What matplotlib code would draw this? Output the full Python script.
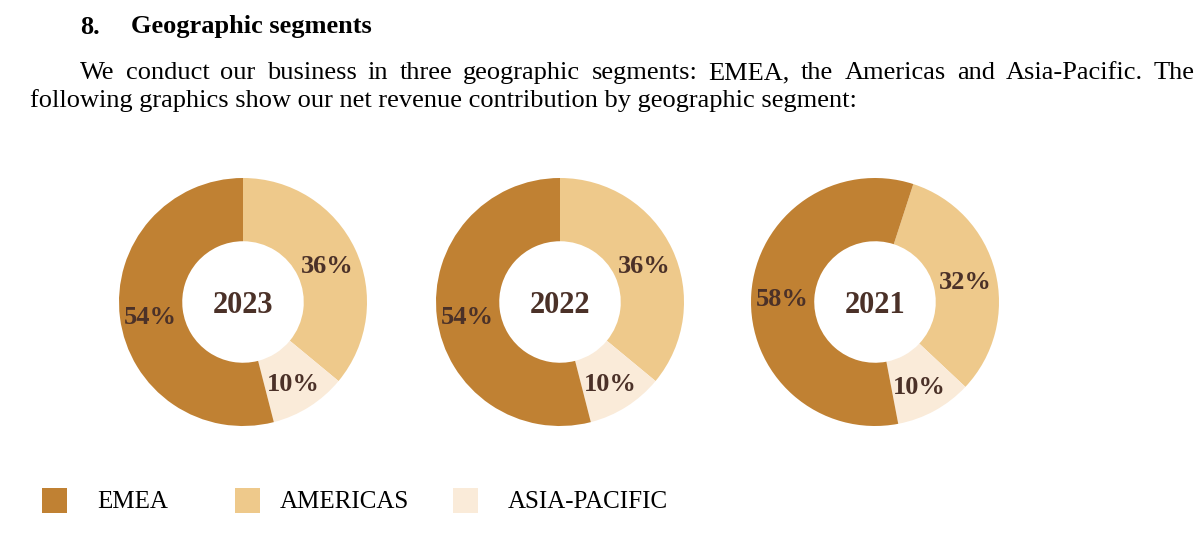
import matplotlib.pyplot as plt
from matplotlib.patches import Rectangle

plt.rcParams['font.family'] = ['Liberation Serif', 'DejaVu Serif']

years = ['2023', '2022', '2021']
segments = ['EMEA', 'AMERICAS', 'ASIA-PACIFIC']
emea = [54, 54, 58]
americas = [36, 36, 32]
asia = [10, 10, 10]
colors = ['#C08133', '#EEC98B', '#FAEBD9']
# clockwise offset of the first (Americas) wedge from 12 o'clock
start_offset = [0, 0, 18]
text_col = '#4B3128'

line1 = 'We conduct our business in three geographic segments: EMEA, the Americas and Asia-Pacific. The'
line2 = 'following graphics show our net revenue contribution by geographic segment:'

W, H = 1200, 541
fig = plt.figure(figsize=(12, 5.41), dpi=100)
r = fig.canvas.get_renderer()

fig.text(80 / W, 1 - 27 / H, '8.', fontsize=19, fontweight='bold', va='center')
fig.text(131 / W, 1 - 27 / H, 'Geographic segments', fontsize=19, fontweight='bold', va='center')

# justified first line: spread the words from x=80 to x=1195
words = line1.split()
txts = [fig.text(0, 1 - 73 / H, w, fontsize=19, va='center') for w in words]
widths = [t.get_window_extent(r).width for t in txts]
gap = (1195 - 80 - sum(widths)) / (len(words) - 1)
x = 80
for t, w in zip(txts, widths):
    t.set_x(x / W)
    x += w + gap
fig.text(30 / W, 1 - 101 / H, line2, fontsize=19, va='center')

centers = [(243, 302), (560, 302), (875, 302)]
R = 124
for i, yr in enumerate(years):
    cx, cy = centers[i]
    ax = fig.add_axes([(cx - R) / W, (H - cy - R) / H, 2 * R / W, 2 * R / H])
    vals = [americas[i], asia[i], emea[i]]
    cols = [colors[1], colors[2], colors[0]]
    wedges, texts, autotexts = ax.pie(vals, colors=cols, startangle=90 - start_offset[i],
                                      counterclock=False, radius=1,
                                      wedgeprops=dict(width=0.51, linewidth=0),
                                      autopct='%d%%', pctdistance=0.75)
    for t in autotexts:
        t.set_fontsize(19)
        t.set_fontweight('bold')
        t.set_color(text_col)
        t.set_y(t.get_position()[1] - 0.03)
    ax.text(0, -0.03, yr, ha='center', va='center', fontsize=22, fontweight='bold', color=text_col)
    ax.set_xlim(-1, 1)
    ax.set_ylim(-1, 1)
    ax.set_aspect('equal')
    ax.axis('off')

leg_box = [42, 235, 453]
leg_txt = [97, 280, 508]
for i, seg in enumerate(segments):
    fig.patches.append(Rectangle((leg_box[i] / W, 1 - 513 / H), 25 / W, 25 / H,
                                 transform=fig.transFigure, facecolor=colors[i],
                                 edgecolor='none', figure=fig))
    fig.text(leg_txt[i] / W, 1 - 502 / H, seg, fontsize=18, va='center')

fig.savefig('out.png', dpi=100)
